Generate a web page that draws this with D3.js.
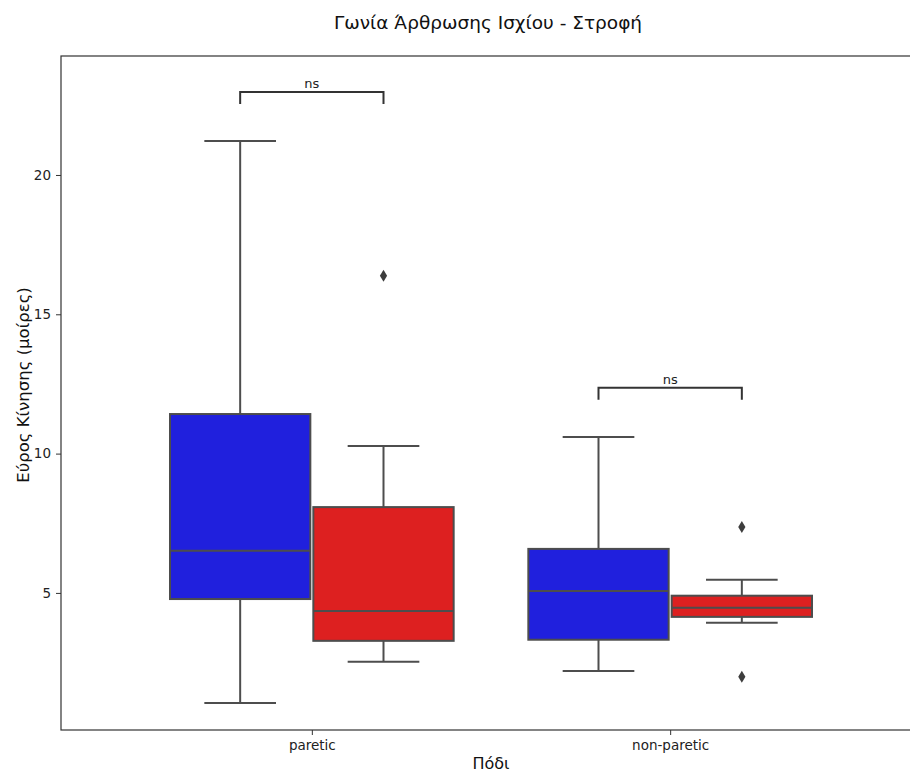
<!DOCTYPE html>
<html>
<head>
<meta charset="utf-8">
<script src="https://cdn.jsdelivr.net/npm/d3@7"></script>
<style>
  body { margin: 0; background: #fff; }
  svg { display: block; font-family: "DejaVu Sans", sans-serif; }
</style>
</head>
<body>
<div id="chart"></div>
<script>
// Categories and hue groups
const legs = ["paretic", "non-paretic"];
const groups = ["blue", "red"];
const groupColors = ["#2020dd", "#dd2020"];

// Box statistics per leg, per group: [lowWhisker, q1, median, q3, highWhisker]
const pareticStats = [
  [1.05, 4.78, 6.51, 11.42, 21.22],
  [2.53, 3.28, 4.35, 8.08, 10.27]
];
const nonPareticStats = [
  [2.20, 3.32, 5.07, 6.58, 10.60],
  [3.93, 4.14, 4.47, 4.90, 5.47]
];
// Outliers per leg, per group
const pareticOutliers = [[], [16.38]];
const nonPareticOutliers = [[], [7.37, 1.99]];

// Significance annotations: bracket top and leg bottom in data units
const annotLabels = ["ns", "ns"];
const annotTop = [22.98, 12.36];
const annotBottom = [22.55, 11.93];

const yTicks = [5, 10, 15, 20];

const W = 910, H = 773;

const svg = d3.select("#chart").append("svg")
  .attr("width", W).attr("height", H);

const x = d3.scaleLinear().domain([-0.7, 1.7]).range([61, 921]);
const y = d3.scaleLinear().domain([0.08, 24.27]).range([730, 56]);

const statsByLeg = [pareticStats, nonPareticStats];
const outliersByLeg = [pareticOutliers, nonPareticOutliers];

const edge = "#4d4d4d";
const boxW = 0.8 / groups.length;

const plot = svg.append("g");

legs.forEach((leg, i) => {
  groups.forEach((g, j) => {
    const s = statsByLeg[i][j];
    const cx = i - 0.4 + boxW * (j + 0.5);
    const x0 = x(cx - boxW / 2) + 1.5, x1 = x(cx + boxW / 2) - 1.5;
    const xc = x(cx);
    const capHalf = x(cx + boxW / 4) - x(cx);
    const grp = plot.append("g");
    // whiskers
    grp.append("line").attr("x1", xc).attr("x2", xc).attr("y1", y(s[0])).attr("y2", y(s[1]))
      .attr("stroke", edge).attr("stroke-width", 2);
    grp.append("line").attr("x1", xc).attr("x2", xc).attr("y1", y(s[3])).attr("y2", y(s[4]))
      .attr("stroke", edge).attr("stroke-width", 2);
    // caps
    [s[0], s[4]].forEach(v => {
      grp.append("line").attr("x1", xc - capHalf).attr("x2", xc + capHalf)
        .attr("y1", y(v)).attr("y2", y(v)).attr("stroke", edge).attr("stroke-width", 2);
    });
    // box
    grp.append("rect").attr("x", x0).attr("width", x1 - x0)
      .attr("y", y(s[3])).attr("height", y(s[1]) - y(s[3]))
      .attr("fill", groupColors[j]).attr("stroke", edge).attr("stroke-width", 2);
    // median
    grp.append("line").attr("x1", x0).attr("x2", x1).attr("y1", y(s[2])).attr("y2", y(s[2]))
      .attr("stroke", edge).attr("stroke-width", 2);
    // outliers as diamonds
    outliersByLeg[i][j].forEach(v => {
      grp.append("path")
        .attr("transform", `translate(${xc},${y(v)})`)
        .attr("d", "M0,-6L3.6,0L0,6L-3.6,0Z")
        .attr("fill", "#3d3d3d");
    });
  });
  // significance bracket between the two group centers
  const xa = x(i - 0.4 + boxW * 0.5), xb = x(i - 0.4 + boxW * 1.5);
  plot.append("path")
    .attr("d", `M${xa},${y(annotBottom[i])}V${y(annotTop[i])}H${xb}V${y(annotBottom[i])}`)
    .attr("fill", "none").attr("stroke", "#333").attr("stroke-width", 2);
  plot.append("text")
    .attr("x", (xa + xb) / 2).attr("y", y(annotTop[i]) - 4)
    .attr("text-anchor", "middle").attr("font-size", 13).attr("fill", "#222")
    .text(annotLabels[i]);
});

// Axes
const yAxis = d3.axisLeft(y).tickValues(yTicks).tickSize(5).tickPadding(5).tickFormat(d3.format("d"));
const yG = svg.append("g").attr("transform", "translate(61,0)").call(yAxis);
yG.select(".domain").remove();
yG.selectAll("line").attr("stroke", "#333");
yG.selectAll("text").attr("font-size", 13.5).attr("fill", "#222").attr("font-family", "DejaVu Sans");

const xAxis = d3.axisBottom(x).tickValues([0, 1]).tickSize(5).tickFormat(d => legs[d]);
const xG = svg.append("g").attr("transform", "translate(0,730)").call(xAxis);
xG.select(".domain").remove();
xG.selectAll("line").attr("stroke", "#333");
xG.selectAll("text").attr("font-size", 13.5).attr("fill", "#222").attr("font-family", "DejaVu Sans")
  .attr("dy", null).attr("y", 20);

// Frame
svg.append("rect").attr("x", 61).attr("y", 56).attr("width", 921 - 61).attr("height", 730 - 56)
  .attr("fill", "none").attr("stroke", "#333").attr("stroke-width", 1.2);

// Titles
svg.append("text").attr("x", 488).attr("y", 29).attr("text-anchor", "middle")
  .attr("font-size", 18.5).attr("fill", "#111").text("Γωνία Άρθρωσης Ισχίου - Στροφή");
svg.append("text").attr("x", 491).attr("y", 769).attr("text-anchor", "middle")
  .attr("font-size", 16).attr("fill", "#111").text("Πόδι");
svg.append("text").attr("transform", "translate(29,385) rotate(-90)").attr("text-anchor", "middle")
  .attr("font-size", 16.5).attr("fill", "#111").text("Εύρος Κίνησης (μοίρες)");
</script>
</body>
</html>
